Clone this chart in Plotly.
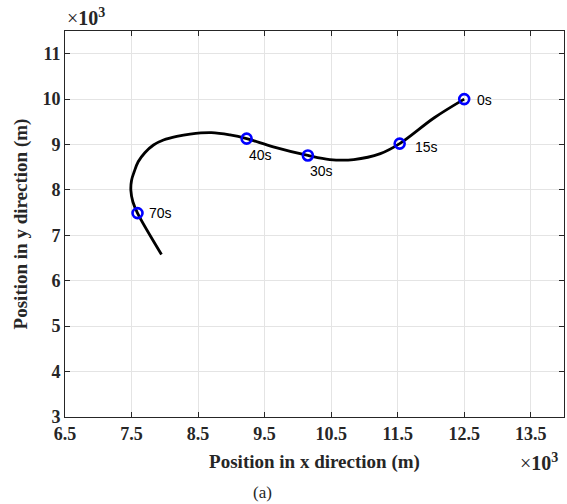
import plotly.graph_objects as go

# trajectory waypoints (units of 10^3 m)
path_x = [12.50, 12.05, 11.53, 11.24, 10.84, 10.48, 10.15, 9.63, 9.23,
          8.98, 8.70, 8.38, 8.18, 7.98, 7.83, 7.70, 7.60, 7.54, 7.50, 7.49,
          7.52, 7.59, 7.95]
path_y = [10.00, 9.59, 9.02, 8.80, 8.67, 8.67, 8.76, 8.95, 9.13,
          9.21, 9.26, 9.23, 9.18, 9.10, 8.99, 8.82, 8.62, 8.40, 8.21, 7.99,
          7.74, 7.49, 6.58]

# time markers
mark_t = ["0s", "15s", "30s", "40s", "70s"]
mark_x = [12.50, 11.53, 10.15, 9.23, 7.59]
mark_y = [10.00, 9.02, 8.76, 9.13, 7.49]

x_ticks = [6.5, 7.5, 8.5, 9.5, 10.5, 11.5, 12.5, 13.5]
y_ticks = [3, 4, 5, 6, 7, 8, 9, 10, 11]

serif = "Liberation Serif"
sans = "Liberation Sans"
ink = "#262626"

fig = go.Figure()
fig.add_trace(go.Scatter(x=path_x, y=path_y, mode="lines",
                         line=dict(color="black", width=2.8, shape="spline", smoothing=1.0),
                         showlegend=False, hoverinfo="skip"))
fig.add_trace(go.Scatter(x=mark_x, y=mark_y, mode="markers",
                         marker=dict(symbol="circle-open", size=10, color="#0000ff",
                                     line=dict(width=2.6, color="#0000ff")),
                         showlegend=False))

# label offsets in pixels (dx, dy)
label_off = [(11, -1), (13, -3), (0, -16), (0, -16), (9, 0)]
for t, x, y, (dx, dy) in zip(mark_t, mark_x, mark_y, label_off):
    fig.add_annotation(x=x, y=y, text=t, showarrow=False, xanchor="left", yanchor="middle",
                       xshift=dx, yshift=dy,
                       font=dict(family=sans, size=14, color="black"))

axis_common = dict(showline=True, linecolor=ink, linewidth=1, mirror="allticks",
                   ticks="inside", ticklen=5, tickcolor=ink, automargin=False,
                   showgrid=True, gridcolor="#e4e4e4", gridwidth=1, zeroline=False,
                   tickfont=dict(family=serif, size=18, color=ink))

fig.update_xaxes(range=[6.5, 14], tickvals=x_ticks,
                 ticktext=[f"<b>{v:.1f}</b>" for v in x_ticks],
                 title=dict(text="<b>Position in x direction (m)</b>", standoff=12,
                            font=dict(family=serif, size=19, color=ink)),
                 **axis_common)
fig.update_yaxes(range=[3, 11.5], tickvals=y_ticks,
                 ticktext=[f"<b>{v}</b>" for v in y_ticks],
                 title=dict(text="<b>Position in y direction (m)</b>", standoff=9,
                            font=dict(family=serif, size=19, color=ink)),
                 **axis_common)

fig.add_annotation(xref="paper", yref="paper", x=0, y=1, xanchor="left", yanchor="bottom",
                   yshift=0, text="×<b>10<sup>3</sup></b>", showarrow=False,
                   font=dict(family=serif, size=20, color=ink))
fig.add_annotation(xref="paper", yref="paper", x=1, y=0, xanchor="left", yanchor="top",
                   xshift=-46, yshift=-31, text="×<b>10<sup>3</sup></b>", showarrow=False,
                   font=dict(family=serif, size=20, color=ink))
fig.add_annotation(xref="paper", yref="paper", x=0.395, y=0, xanchor="center", yanchor="top",
                   yshift=-64, text="(a)", showarrow=False,
                   font=dict(family=serif, size=17, color=ink))

fig.update_layout(width=567, height=504, plot_bgcolor="white", paper_bgcolor="white",
                  margin=dict(l=65, r=3, t=31, b=87))

fig.write_html("out.html", config={"displayModeBar": False},
               post_script="document.body.style.margin='0';document.body.style.overflow='hidden';")
